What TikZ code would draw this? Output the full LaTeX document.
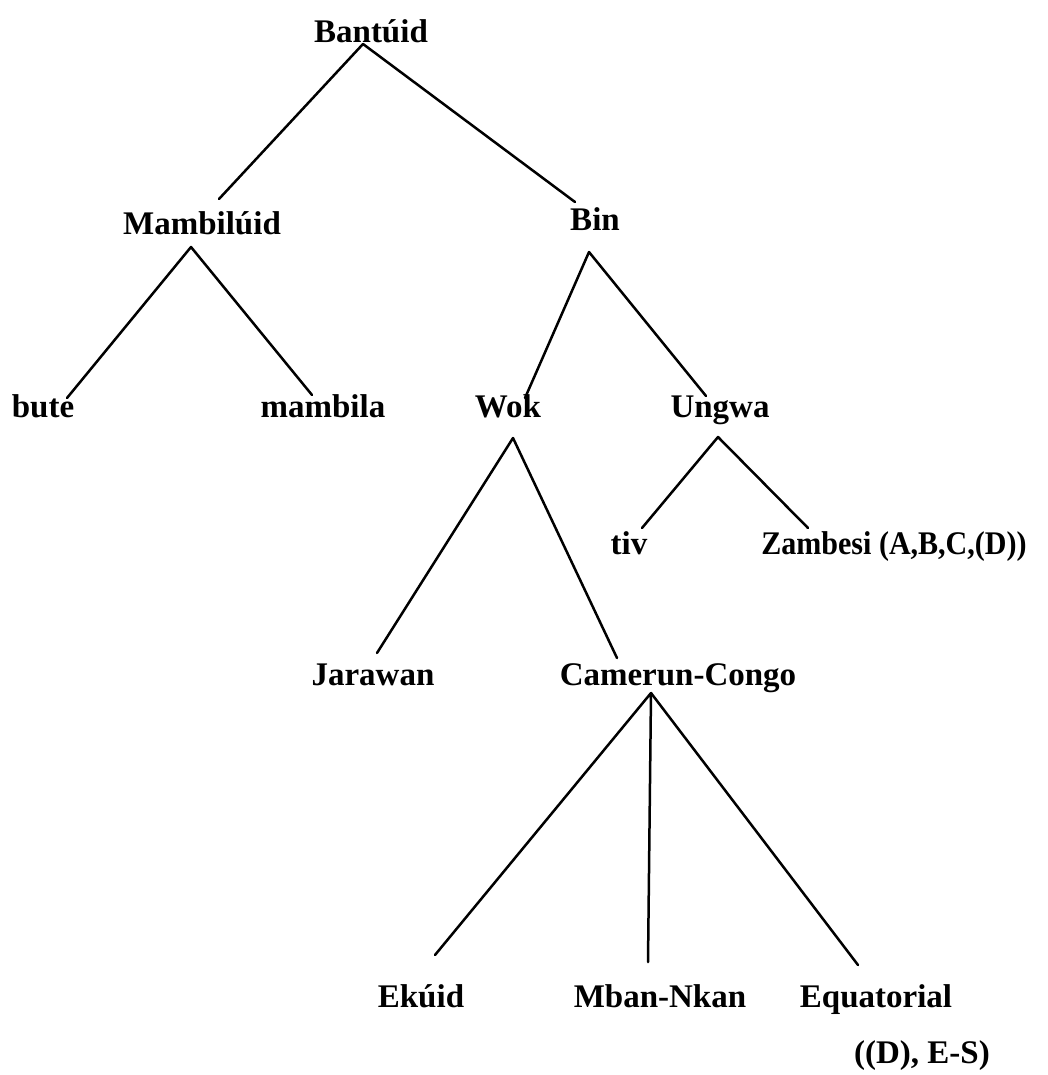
\documentclass[tikz,border=0pt]{standalone}
\usepackage{fontspec}
\usepackage{graphicx}
\setmainfont{Liberation Serif}
\begin{document}
\begin{tikzpicture}[x=1pt,y=-1pt,
  lbl/.style={anchor=base,inner sep=0pt,font=\fontsize{33}{40}\selectfont\bfseries},
  edge/.style={line width=2.5pt,line cap=round,line join=round}]
\useasboundingbox[fill=white] (0,0) rectangle (1048,1075);
% nodes
\node[lbl] (bantuid) at (371,43) {Bantúid};
\node[lbl] (mambiluid) at (202,235) {Mambilúid};
\node[lbl] (bin) at (595,231) {Bin};
\node[lbl] (bute) at (43,417) {bute};
\node[lbl] (mambila) at (323,417) {mambila};
\node[lbl] (wok) at (508,417) {Wok};
\node[lbl] (ungwa) at (720,417) {Ungwa};
\node[lbl] (tiv) at (629,554) {tiv};
\node[lbl] (zambesi) at (894,554) {\scalebox{0.91}[1]{Zambesi (A,B,C,(D))}};
\node[lbl] (jarawan) at (373,685) {Jarawan};
\node[lbl] (camerun) at (678,685) {Camerun-Congo};
\node[lbl] (ekuid) at (421,1007) {Ekúid};
\node[lbl] (mban) at (660,1007) {Mban-Nkan};
\node[lbl] (equatorial) at (876,1007) {Equatorial};
\node[lbl] (es) at (922,1063) {((D), E-S)};
% connectors
\draw[edge] ([xshift=17pt,yshift=36pt]mambiluid.base) -- ([xshift=-8pt,yshift=-1pt]bantuid.base) -- ([xshift=-20pt,yshift=29pt]bin.base);
\draw[edge] ([xshift=24pt,yshift=19pt]bute.base) -- ([xshift=-11pt,yshift=-12pt]mambiluid.base) -- ([xshift=-11pt,yshift=22pt]mambila.base);
\draw[edge] ([xshift=17pt,yshift=19pt]wok.base) -- ([xshift=-6pt,yshift=-21pt]bin.base) -- ([xshift=-14pt,yshift=21pt]ungwa.base);
\draw[edge] ([xshift=4pt,yshift=32pt]jarawan.base) -- ([xshift=5pt,yshift=-21pt]wok.base) -- ([xshift=-61pt,yshift=27pt]camerun.base);
\draw[edge] ([xshift=13pt,yshift=26pt]tiv.base) -- ([xshift=-2pt,yshift=-20pt]ungwa.base) -- ([xshift=-86pt,yshift=26pt]zambesi.base);
\draw[edge] ([xshift=14pt,yshift=52pt]ekuid.base) -- ([xshift=-27pt,yshift=-8pt]camerun.base) -- ([xshift=-12pt,yshift=45pt]mban.base);
\draw[edge] ([xshift=-27pt,yshift=-8pt]camerun.base) -- ([xshift=-18pt,yshift=42pt]equatorial.base);
\end{tikzpicture}
\end{document}
